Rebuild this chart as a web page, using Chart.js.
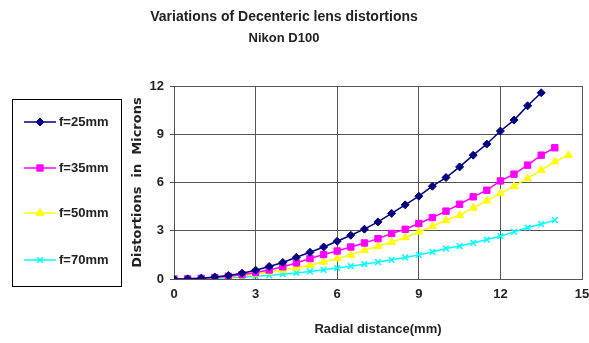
<!DOCTYPE html>
<html>
<head>
<meta charset="utf-8">
<title>Decenteric lens distortions</title>
<script src="https://cdn.jsdelivr.net/npm/chart.js@4/dist/chart.umd.min.js"></script>
<style>
    html, body { margin: 0; padding: 0; background: #ffffff; }
    #wrap { width: 589px; height: 343px; position: relative; }
</style>
</head>
<body>
<div id="wrap"><canvas id="distChart" width="589" height="343"></canvas></div>
<script>
// ===========================
// DATA
// ===========================

const titleLines = ['Variations of Decenteric lens distortions', 'Nikon D100'];
const seriesNames = ['f=25mm', 'f=35mm', 'f=50mm', 'f=70mm'];

// radial distance in mm, one point every 0.5 mm
const radial = [0, 0.5, 1, 1.5, 2, 2.5, 3, 3.5, 4, 4.5, 5, 5.5, 6, 6.5, 7,
                7.5, 8, 8.5, 9, 9.5, 10, 10.5, 11, 11.5, 12, 12.5, 13, 13.5, 14, 14.5];

const f25 = [0, 0.01, 0.05, 0.12, 0.22, 0.36, 0.55, 0.78, 1.03, 1.35, 1.66, 1.99, 2.35, 2.72, 3.10,
             3.55, 4.08, 4.61, 5.15, 5.77, 6.31, 6.97, 7.70, 8.39, 9.20, 9.88, 10.77, 11.58];
const f35 = [0, 0.01, 0.04, 0.09, 0.17, 0.27, 0.40, 0.56, 0.76, 1.00, 1.27, 1.52, 1.74, 1.99, 2.24,
             2.51, 2.83, 3.09, 3.45, 3.82, 4.22, 4.65, 5.11, 5.52, 6.10, 6.52, 7.08, 7.70, 8.16];
const f50 = [0, 0.01, 0.03, 0.07, 0.13, 0.21, 0.31, 0.43, 0.56, 0.70, 0.86, 1.06, 1.27, 1.50, 1.79,
             2.04, 2.30, 2.58, 2.93, 3.28, 3.65, 3.97, 4.42, 4.86, 5.32, 5.77, 6.25, 6.77, 7.29, 7.70];
const f70 = [0, 0.00, 0.02, 0.04, 0.07, 0.12, 0.17, 0.23, 0.30, 0.38, 0.47, 0.57, 0.68, 0.80, 0.92,
             1.05, 1.19, 1.34, 1.50, 1.68, 1.89, 2.05, 2.24, 2.45, 2.66, 2.93, 3.20, 3.41, 3.66];

const xTicks = [0, 3, 6, 9, 12, 15];
const yTicks = [0, 3, 6, 9, 12];

// ===========================
// HELPERS
// ===========================

function toPoints(values) {
    return values.map((v, i) => ({ x: radial[i], y: v }));
}

function makeSeries(label, values, color, style, radius) {
    return {
        label: label,
        data: toPoints(values),
        borderColor: color,
        backgroundColor: color,
        pointBackgroundColor: color,
        pointBorderColor: color,
        pointStyle: style,
        pointRadius: radius,
        pointBorderWidth: style === 'crossRot' ? 1.5 : 1,
        borderWidth: 1.5,
        showLine: true,
        tension: 0
    };
}

// title + boxed legend drawn by hand, like the spreadsheet original
const decorPlugin = {
    id: 'decor',
    afterDraw(chart) {
        const ctx = chart.ctx;
        ctx.save();

        // title
        ctx.fillStyle = '#222222';
        ctx.textAlign = 'center';
        ctx.textBaseline = 'middle';
        ctx.font = 'bold 14px "Liberation Sans", Arial, sans-serif';
        ctx.fillText(titleLines[0], 284, 17);
        ctx.font = 'bold 13px "Liberation Sans", Arial, sans-serif';
        ctx.fillText(titleLines[1], 284, 38);

        // legend box
        ctx.strokeStyle = '#000000';
        ctx.lineWidth = 1;
        ctx.strokeRect(12.5, 99.5, 109, 187);

        const rows = [122, 168, 213, 260];
        chart.data.datasets.forEach((ds, i) => {
            const y = rows[i];
            ctx.strokeStyle = ds.borderColor;
            ctx.lineWidth = 1.5;
            ctx.beginPath();
            ctx.moveTo(24, y);
            ctx.lineTo(56, y);
            ctx.stroke();

            ctx.fillStyle = ds.pointBackgroundColor;
            ctx.strokeStyle = ds.pointBorderColor;
            ctx.lineWidth = ds.pointBorderWidth;
            if (Chart.helpers && Chart.helpers.drawPoint) {
                Chart.helpers.drawPoint(ctx, {
                    pointStyle: ds.pointStyle,
                    radius: ds.pointRadius,
                    rotation: 0,
                    borderWidth: ds.pointBorderWidth
                }, 40, y);
            }

            ctx.fillStyle = '#222222';
            ctx.font = 'bold 13px "Liberation Sans", Arial, sans-serif';
            ctx.textAlign = 'left';
            ctx.textBaseline = 'middle';
            ctx.fillText(ds.label, 59, y);
        });

        ctx.restore();
    }
};

// ===========================
// CHART
// ===========================

const gridColor = '#555555';
const tickFont = { family: '"Liberation Sans", Arial, sans-serif', size: 13, weight: 'bold' };

const distChart = new Chart(document.getElementById('distChart'), {
    type: 'scatter',
    data: {
        datasets: [
            makeSeries(seriesNames[0], f25, '#000080', 'rectRot', 4),
            makeSeries(seriesNames[1], f35, '#ff00ff', 'rect', 4.5),
            makeSeries(seriesNames[2], f50, '#ffff00', 'triangle', 4.5),
            makeSeries(seriesNames[3], f70, '#00ffff', 'crossRot', 4)
        ]
    },
    options: {
        responsive: false,
        animation: false,
        layout: {
            padding: { left: 130, right: 0, top: 86, bottom: 6 }
        },
        plugins: {
            legend: { display: false },
            title: { display: false },
            tooltip: { enabled: false }
        },
        scales: {
            x: {
                type: 'linear',
                min: 0,
                max: 15,
                afterBuildTicks: (scale) => {
                    scale.ticks = xTicks.map(v => ({ value: v }));
                },
                afterFit: (scale) => {
                    scale.height = 58;
                    // keep the "15" label inside the canvas without shrinking the plot
                    scale.paddingRight = 7;
                },
                grid: { color: gridColor, lineWidth: 1, tickLength: 0 },
                border: { color: gridColor },
                ticks: { color: '#222222', font: tickFont, padding: 8, maxRotation: 0 },
                title: {
                    display: true,
                    text: 'Radial distance(mm)',
                    color: '#222222',
                    font: { family: '"Liberation Sans", Arial, sans-serif', size: 13, weight: 'bold' },
                    padding: 0
                }
            },
            y: {
                type: 'linear',
                min: 0,
                max: 12,
                afterBuildTicks: (scale) => {
                    scale.ticks = yTicks.map(v => ({ value: v }));
                },
                afterFit: (scale) => { scale.width = 44; },
                grid: { color: gridColor, lineWidth: 1, tickLength: 4 },
                border: { color: gridColor },
                ticks: { color: '#222222', font: tickFont, padding: 6 },
                title: {
                    display: true,
                    text: 'Distortions  in  Microns',
                    color: '#222222',
                    font: { family: '"DejaVu Sans", sans-serif', size: 13, weight: 'bold' },
                    padding: 0
                }
            }
        }
    },
    plugins: [decorPlugin]
});
</script>
</body>
</html>
